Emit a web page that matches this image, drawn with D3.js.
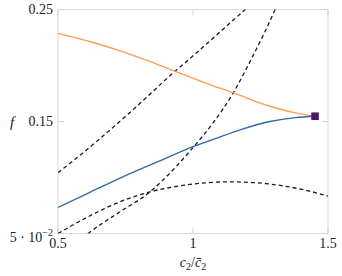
<!DOCTYPE html>
<html>
<head>
<meta charset="utf-8">
<script src="https://cdn.jsdelivr.net/npm/d3@7"></script>
<style>
  body { margin: 0; background: #fff; }
  svg { display: block; }
</style>
</head>
<body>
<svg id="chart" width="342" height="276"></svg>
<script>
// values (c2/c2bar, f)
const orangeX = [0.5, 0.63, 0.73, 0.83, 0.935, 1.04, 1.15, 1.285, 1.38, 1.452];
const orangeY = [0.2287, 0.2205, 0.2131, 0.2045, 0.1947, 0.1850, 0.1755, 0.1636, 0.1577, 0.1547];

const blueX = [0.5, 0.62, 0.73, 0.89, 1.0, 1.075, 1.18, 1.285, 1.38, 1.452];
const blueY = [0.0733, 0.0870, 0.0995, 0.1162, 0.1275, 0.1340, 0.1430, 0.1500, 0.1535, 0.1547];

const dashAX = [0.5, 0.563, 0.652, 0.78, 0.934, 0.989, 1.1, 1.193, 1.25];
const dashAY = [0.1044, 0.1162, 0.1340, 0.1610, 0.1950, 0.2063, 0.2300, 0.2500, 0.2625];

const dashBX = [0.59, 0.611, 0.7296, 0.841, 0.889, 0.996, 1.075, 1.149, 1.217, 1.304, 1.33];
const dashBY = [0.046, 0.050, 0.0694, 0.0872, 0.0978, 0.1256, 0.1490, 0.1755, 0.2063, 0.2500, 0.2650];

const dashCX = [0.5, 0.6, 0.7296, 0.841, 0.95, 1.05, 1.125, 1.22, 1.334, 1.42, 1.5];
const dashCY = [0.050, 0.0635, 0.0783, 0.0872, 0.0925, 0.0953, 0.0961, 0.0955, 0.0925, 0.0885, 0.0834];

const markX = [1.452];
const markY = [0.1547];

const xTicks = [0.5, 1, 1.5];
const xTickLabels = ["0.5", "1", "1.5"];
const yTicks = [0.05, 0.15, 0.25];

const zip = (xs, ys) => xs.map((v, i) => [v, ys[i]]);

const svg = d3.select("#chart")
  .attr("font-family", "'Liberation Serif', 'Times New Roman', serif");
const pLeft = 58, pRight = 328, pTop = 9.5, pBottom = 233.5;

const x = d3.scaleLinear().domain([0.5, 1.5]).range([pLeft, pRight]);
const y = d3.scaleLinear().domain([0.05, 0.25]).range([pBottom, pTop]);

svg.append("defs").append("clipPath").attr("id", "clip")
  .append("rect")
  .attr("x", pLeft).attr("y", pTop)
  .attr("width", pRight - pLeft).attr("height", pBottom - pTop);

// frame
svg.append("rect")
  .attr("x", pLeft).attr("y", pTop)
  .attr("width", pRight - pLeft).attr("height", pBottom - pTop)
  .attr("fill", "none")
  .attr("stroke", "#d9d9d9")
  .attr("stroke-width", 1);

// inner ticks on all four sides
const tickLen = 6;
const tickG = svg.append("g").attr("stroke", "#d0d0d0");
xTicks.forEach(t => {
  tickG.append("line").attr("x1", x(t)).attr("x2", x(t)).attr("y1", pBottom).attr("y2", pBottom - tickLen);
  tickG.append("line").attr("x1", x(t)).attr("x2", x(t)).attr("y1", pTop).attr("y2", pTop + tickLen);
});
yTicks.forEach(t => {
  tickG.append("line").attr("x1", pLeft).attr("x2", pLeft + tickLen).attr("y1", y(t)).attr("y2", y(t));
  tickG.append("line").attr("x1", pRight).attr("x2", pRight - tickLen).attr("y1", y(t)).attr("y2", y(t));
});

// tick labels
svg.append("g").selectAll("text")
  .data(xTicks)
  .join("text")
  .attr("x", d => x(d))
  .attr("y", 248)
  .attr("text-anchor", "middle")
  .attr("font-size", 14)
  .attr("fill", "#222")
  .text((d, i) => xTickLabels[i]);

const yl = svg.append("g").attr("font-size", 14).attr("text-anchor", "end").attr("fill", "#222");
yl.append("text").attr("x", 53).attr("y", y(0.25) + 4.5).text("0.25");
yl.append("text").attr("x", 53).attr("y", y(0.15) + 4.5).text("0.15");
const ylow = yl.append("text").attr("x", 53).attr("y", 241.5);
ylow.append("tspan").text("5 · 10");
ylow.append("tspan").attr("dy", -6).attr("font-size", 10).text("−2");

// axis labels
svg.append("text")
  .attr("x", 12).attr("y", y(0.15) + 5)
  .attr("text-anchor", "middle")
  .attr("font-size", 15)
  .attr("font-style", "italic")
  .attr("fill", "#222")
  .text("f");

const xl = svg.append("text")
  .attr("x", 193).attr("y", 267)
  .attr("text-anchor", "middle")
  .attr("font-size", 14)
  .attr("fill", "#222");
xl.append("tspan").attr("font-style", "italic").text("c");
xl.append("tspan").attr("font-size", 10).attr("dy", 3).text("2");
xl.append("tspan").attr("dy", -3).text("/");
xl.append("tspan").attr("font-style", "italic").text("c\u0304");
xl.append("tspan").attr("font-size", 10).attr("dy", 3).text("2");

const line = d3.line()
  .x(d => x(d[0]))
  .y(d => y(d[1]))
  .curve(d3.curveMonotoneX);

const plot = svg.append("g").attr("clip-path", "url(#clip)");

[zip(dashAX, dashAY), zip(dashBX, dashBY), zip(dashCX, dashCY)].forEach(pts => {
  plot.append("path")
    .attr("d", line(pts))
    .attr("fill", "none")
    .attr("stroke", "#1a1a1a")
    .attr("stroke-width", 1.3)
    .attr("stroke-dasharray", "4,3");
});

plot.append("path")
  .attr("d", line(zip(orangeX, orangeY)))
  .attr("fill", "none")
  .attr("stroke", "#fd9d55")
  .attr("stroke-width", 1.4);

plot.append("path")
  .attr("d", line(zip(blueX, blueY)))
  .attr("fill", "none")
  .attr("stroke", "#2f6aa6")
  .attr("stroke-width", 1.4);

svg.append("g").selectAll("rect")
  .data(zip(markX, markY))
  .join("rect")
  .attr("x", d => x(d[0]) - 3.8)
  .attr("y", d => y(d[1]) - 3.8)
  .attr("width", 7.6)
  .attr("height", 7.6)
  .attr("fill", "#4a1864");
</script>
</body>
</html>
